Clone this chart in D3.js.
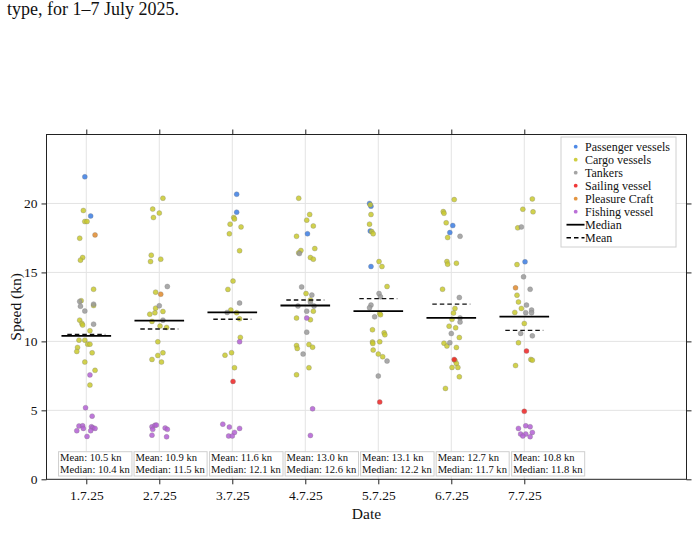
<!DOCTYPE html>
<html lang="en">
<head>
  <meta charset="UTF-8" />
  <title>Vessel speeds 1-7 July 2025</title>
  <style>
    html, body {
      margin: 0;
      background: #fff;
    }
    svg {
      display: block;
      font-family: "Liberation Serif", serif;
    }
    .grid line {
      stroke: #e3e3e3;
      stroke-width: 1;
    }
  </style>
  <script src="https://d3js.org/d3.v7.min.js"></script>
</head>
<body>
  <svg id="chart" width="700" height="541"></svg>
  <script>
    const days = ["1.7.25", "2.7.25", "3.7.25", "4.7.25", "5.7.25", "6.7.25", "7.7.25"];
    const meanSpeed = [10.5, 10.9, 11.6, 13.0, 13.1, 12.7, 10.8];
    const medianSpeed = [10.4, 11.5, 12.1, 12.6, 12.2, 11.7, 11.8];
    const yTicks = [0, 5, 10, 15, 20];

    // points per type: [day index, jitter, speed (kn)]
    const passenger = [
      [0, -0.02, 21.93], [0, 0.06, 19.09],
      [2, 0.06, 20.67], [2, 0.06, 19.37],
      [3, 0.03, 17.8],
      [4, -0.12, 20.0], [4, -0.1, 19.8], [4, -0.11, 18.0], [4, -0.1, 15.43],
      [5, 0.02, 18.4], [5, -0.02, 17.89],
      [6, 0.01, 15.77]
    ];
    const cargo = [
      [0, -0.04, 19.49], [0, -0.02, 18.69], [0, 0.01, 18.69], [0, -0.09, 17.48], [0, -0.05, 16.08],
      [0, -0.08, 15.89], [0, 0.10, 13.78], [0, -0.07, 12.95], [0, 0.10, 12.6], [0, -0.09, 11.54],
      [0, -0.06, 11.3], [0, -0.05, 11.18], [0, 0.05, 10.77], [0, -0.1, 10.09], [0, -0.02, 10.09],
      [0, 0.02, 9.8], [0, 0.05, 9.8], [0, -0.12, 9.56], [0, -0.13, 9.27], [0, 0.08, 9.17],
      [0, -0.02, 8.5], [0, 0.12, 7.9], [0, 0.05, 6.83],
      [1, 0.05, 20.38], [1, -0.09, 19.59], [1, 0, 19.3], [1, -0.08, 18.98], [1, -0.11, 16.25],
      [1, 0.02, 15.96], [1, -0.12, 15.79], [1, -0.05, 13.57], [1, -0.05, 12.41], [1, 0.05, 12.17],
      [1, -0.13, 11.97], [1, -0.06, 12.07], [1, -0.1, 11.45], [1, 0.01, 11.11], [1, 0.1, 11.01],
      [1, -0.02, 9.97], [1, 0.05, 9.17], [1, -0.02, 8.98], [1, -0.1, 8.69], [1, 0.03, 8.5],
      [2, 0.02, 18.98], [2, 0.03, 18.88], [2, -0.03, 18.5], [2, 0.12, 18.3], [2, -0.04, 17.8],
      [2, 0.1, 16.57], [2, 0.01, 14.37], [2, -0.06, 13.77], [2, -0.02, 12.27], [2, 0.06, 12.08],
      [2, 0.1, 11.64], [2, 0.11, 10.29], [2, -0.01, 9.18], [2, -0.1, 9.0], [2, 0.03, 8.09],
      [3, -0.09, 20.38], [3, 0.06, 19.2], [3, 0.02, 18.79], [3, 0.11, 18.37], [3, -0.12, 17.62],
      [3, 0.13, 16.73], [3, -0.06, 16.59], [3, -0.09, 16.42], [3, 0.07, 16.08], [3, 0.11, 15.96],
      [3, 0.01, 13.47], [3, 0.07, 13.0], [3, 0.11, 12.19], [3, -0.12, 11.69], [3, 0.07, 11.57],
      [3, -0.12, 9.7], [3, -0.11, 9.49], [3, 0.05, 9.77], [3, 0.1, 9.58], [3, 0.05, 8.09],
      [3, -0.12, 7.58],
      [4, -0.11, 19.9], [4, -0.1, 19.2], [4, -0.12, 18.5], [4, -0.09, 17.96], [4, -0.07, 17.8],
      [4, 0.01, 15.79], [4, 0.05, 15.43], [4, 0.12, 13.98], [4, 0.02, 12.03], [4, 0.03, 11.93],
      [4, -0.08, 10.84], [4, 0.08, 10.62], [4, 0.09, 10.48], [4, -0.08, 9.95], [4, -0.075, 9.85],
      [4, 0.02, 9.97], [4, -0.07, 9.37], [4, 0, 9.08], [4, 0.06, 8.89],
      [5, 0.04, 20.28], [5, -0.11, 19.41], [5, -0.1, 19.29], [5, -0.07, 18.6], [5, -0.05, 17.53],
      [5, -0.06, 15.79], [5, -0.05, 15.6], [5, 0.07, 15.67], [5, -0.12, 13.78], [5, 0.05, 12.39],
      [5, 0.03, 12.05], [5, 0.01, 11.6], [5, -0.03, 11.1], [5, 0.06, 10.98], [5, 0.11, 10.28],
      [5, -0.1, 9.87], [5, -0.06, 9.66], [5, 0.07, 9.56], [5, 0.05, 8.61], [5, 0.07, 8.4],
      [5, 0.01, 8.11], [5, 0.09, 8.11], [5, 0.11, 7.43], [5, -0.08, 6.59],
      [6, 0.11, 20.33], [6, -0.02, 19.58], [6, 0.12, 19.39], [6, -0.09, 18.23], [6, -0.1, 15.57],
      [6, -0.1, 13.35], [6, -0.08, 12.86], [6, -0.04, 12.39], [6, -0.13, 12.1], [6, 0, 11.3],
      [6, -0.08, 9.9], [6, 0.09, 8.69], [6, 0.11, 8.64], [6, -0.12, 8.25]
    ];
    const tankers = [
      [0, -0.09, 12.9], [0, -0.08, 12.55], [0, -0.02, 12.2], [0, 0.10, 12.7], [0, 0.10, 11.25],
      [1, 0.11, 13.98], [1, 0, 12.58], [1, 0.05, 11.54],
      [2, 0.1, 12.78], [2, -0.07, 12.1],
      [3, -0.08, 16.37], [3, -0.05, 13.95], [3, 0.09, 13.36], [3, 0.07, 12.85], [3, -0.1, 12.56],
      [3, 0.12, 12.56], [3, 0.02, 12.19], [3, 0.02, 10.67], [3, -0.03, 9.08],
      [4, 0.01, 13.47], [4, 0.03, 13.23], [4, -0.1, 12.63], [4, -0.12, 12.44], [4, -0.05, 11.78],
      [4, 0.12, 8.57], [4, 0, 7.49],
      [5, 0.12, 17.62], [5, 0.11, 13.18], [5, 0.12, 11.7], [5, 0.12, 11.4], [5, 0, 10.57], [5, -0.02, 9.9],
      [6, -0.04, 18.3], [6, -0.01, 14.68], [6, 0.08, 13.78], [6, 0.03, 12.63], [6, 0.1, 12.27],
      [6, 0.02, 12.08], [6, 0.1, 12.08], [6, -0.05, 10.58], [6, 0.11, 10.4]
    ];
    const sailing = [
      [2, 0.01, 7.1], [4, 0.02, 5.6], [5, 0.04, 8.69], [6, 0.03, 9.3], [6, 0, 4.93]
    ];
    const pleasure = [
      [0, 0.12, 17.72], [1, 0.02, 13.42], [6, -0.12, 13.88]
    ];
    const fishing = [
      [0, 0.05, 7.57], [0, -0.01, 5.19], [0, 0.08, 4.58], [0, -0.1, 3.86], [0, -0.05, 3.88],
      [0, -0.04, 3.69], [0, -0.13, 3.52], [0, 0.07, 3.81], [0, 0.09, 3.74], [0, 0.12, 3.69],
      [0, 0.06, 3.52], [0, 0.01, 3.11],
      [1, -0.1, 3.81], [1, -0.06, 3.91], [1, -0.04, 3.93], [1, -0.09, 3.62], [1, 0.08, 3.72],
      [1, 0.11, 3.62], [1, -0.1, 3.2], [1, 0.1, 3.08],
      [2, 0.1, 9.97], [2, -0.13, 4.0], [2, -0.04, 3.79], [2, 0.1, 3.69], [2, 0.03, 3.4],
      [2, -0.05, 3.14], [2, 0.0, 3.14],
      [3, 0.02, 11.69], [3, 0.1, 5.11], [3, 0.07, 3.18],
      [6, -0.08, 3.69], [6, 0.02, 3.88], [6, 0.08, 3.81], [6, 0.11, 3.4], [6, -0.05, 3.28],
      [6, 0.02, 3.28], [6, -0.02, 3.14], [6, 0.08, 3.09]
    ];

    const groups = [
      { name: "Passenger vessels", color: "#3b7ce3", data: passenger },
      { name: "Cargo vessels", color: "#c9c92e", data: cargo },
      { name: "Tankers", color: "#9a9a9a", data: tankers },
      { name: "Sailing vessel", color: "#ee2222", data: sailing },
      { name: "Pleasure Craft", color: "#e0892c", data: pleasure },
      { name: "Fishing vessel", color: "#b35fd3", data: fishing }
    ];

    const serif = "'Liberation Serif', 'Times New Roman', serif";
    const svg = d3.select("#chart");
    const mLeft = 46.5, mRight = 686.5, mTop = 134.5, mBottom = 479.3;
    const plotW = mRight - mLeft;

    const x = d3.scaleLinear().domain([-0.545, 8.222]).range([mLeft, mRight]);
    const y = d3.scaleLinear().domain([0, 25]).range([mBottom, mTop]);

    // gridlines
    const grid = svg.append("g").attr("class", "grid");
    grid.selectAll(".gv").data(days).join("line")
      .attr("x1", (d, i) => x(i)).attr("x2", (d, i) => x(i))
      .attr("y1", mTop).attr("y2", mBottom);
    grid.selectAll(".gh").data(yTicks.slice(1)).join("line")
      .attr("x1", mLeft).attr("x2", mRight)
      .attr("y1", d => y(d)).attr("y2", d => y(d));

    // axes (ticks mirrored on top and right)
    const xAxis = d3.axisBottom(x).tickValues(d3.range(days.length))
      .tickFormat(i => days[i]).tickSize(5).tickPadding(6);
    const gx = svg.append("g").attr("transform", `translate(0,${mBottom})`).call(xAxis);
    const yAxis = d3.axisLeft(y).tickValues(yTicks).tickSize(5).tickPadding(4);
    const gy = svg.append("g").attr("transform", `translate(${mLeft},0)`).call(yAxis);
    const gt = svg.append("g").attr("transform", `translate(0,${mTop})`)
      .call(d3.axisTop(x).tickValues(d3.range(days.length)).tickSize(5).tickFormat(""));
    const gr = svg.append("g").attr("transform", `translate(${mRight},0)`)
      .call(d3.axisRight(y).tickValues(yTicks).tickSize(5).tickFormat(""));
    [gx, gy, gt, gr].forEach(g => {
      g.attr("font-family", serif).attr("font-size", 13.5);
      g.select(".domain").remove();
      g.selectAll(".tick line").attr("stroke", "#222");
      g.selectAll(".tick text").attr("fill", "#111");
    });

    // frame
    svg.append("rect")
      .attr("x", mLeft).attr("y", mTop)
      .attr("width", plotW).attr("height", mBottom - mTop)
      .attr("fill", "none").attr("stroke", "#222").attr("stroke-width", 1);

    // points
    groups.forEach(g => {
      svg.append("g").selectAll("circle").data(g.data).join("circle")
        .attr("cx", d => x(d[0] + d[1]))
        .attr("cy", d => y(d[2]))
        .attr("r", 2.5)
        .attr("fill", g.color)
        .attr("fill-opacity", 0.85)
        .attr("stroke", "#7a7a7a")
        .attr("stroke-opacity", 0.6)
        .attr("stroke-width", 0.5);
    });

    // median and mean lines
    svg.append("g").selectAll("line").data(medianSpeed).join("line")
      .attr("x1", (d, i) => x(i - 0.34)).attr("x2", (d, i) => x(i + 0.34))
      .attr("y1", d => y(d)).attr("y2", d => y(d))
      .attr("stroke", "#000").attr("stroke-width", 1.8);
    svg.append("g").selectAll("line").data(meanSpeed).join("line")
      .attr("x1", (d, i) => x(i - 0.26)).attr("x2", (d, i) => x(i + 0.26))
      .attr("y1", d => y(d)).attr("y2", d => y(d))
      .attr("stroke", "#111").attr("stroke-width", 1.4)
      .attr("stroke-dasharray", "4.5,3");

    // stat boxes
    days.forEach((day, i) => {
      const bx = mLeft + plotW * (0.0188 + i * 0.118);
      const g = svg.append("g");
      const rect = g.append("rect");
      const t = g.append("text")
        .attr("font-family", serif)
        .attr("font-size", 10.6).attr("fill", "#111");
      t.append("tspan").attr("x", bx + 1.5).attr("y", 460.8)
        .text(`Mean: ${meanSpeed[i].toFixed(1)} kn`);
      t.append("tspan").attr("x", bx + 1.5).attr("y", 473.2)
        .text(`Median: ${medianSpeed[i].toFixed(1)} kn`);
      const bb = t.node().getBBox();
      rect.attr("x", bx).attr("y", 451.7)
        .attr("width", bb.width + 3).attr("height", 24.3)
        .attr("fill", "#fff").attr("fill-opacity", 0.85)
        .attr("stroke", "#cfcfcf").attr("stroke-width", 1);
    });

    // axis labels
    svg.append("text")
      .attr("x", (mLeft + mRight) / 2).attr("y", 518.5)
      .attr("text-anchor", "middle").attr("font-family", serif)
      .attr("font-size", 15.5).attr("fill", "#111")
      .text("Date");
    svg.append("text")
      .attr("transform", `translate(21,${(mTop + mBottom) / 2}) rotate(-90)`)
      .attr("text-anchor", "middle").attr("font-family", serif)
      .attr("font-size", 15.5).attr("fill", "#111")
      .text("Speed (kn)");

    // caption fragment above the chart
    svg.append("text")
      .attr("x", 7).attr("y", 15)
      .attr("font-family", serif)
      .attr("font-size", 18).attr("fill", "#111")
      .text("type, for 1–7 July 2025.");

    // legend
    const lg = svg.append("g").attr("font-family", serif);
    lg.append("rect")
      .attr("x", 561).attr("y", 137).attr("width", 115).attr("height", 110)
      .attr("fill", "#fff").attr("stroke", "#d0d0d0").attr("stroke-width", 1);
    const rowH = 13;
    const row0 = 146.7;
    groups.forEach((g, i) => {
      lg.append("circle")
        .attr("cx", 575.7).attr("cy", row0 + i * rowH).attr("r", 1.9)
        .attr("fill", g.color).attr("fill-opacity", 0.9);
      lg.append("text")
        .attr("x", 585).attr("y", row0 + i * rowH + 4)
        .attr("font-size", 12).attr("fill", "#111").text(g.name);
    });
    const lines = [
      { name: "Median", dash: null, w: 1.8 },
      { name: "Mean", dash: "4.5,3", w: 1.4 }
    ];
    lines.forEach((l, j) => {
      const yy = row0 + (groups.length + j) * rowH;
      lg.append("line")
        .attr("x1", 566.5).attr("x2", 584.5).attr("y1", yy).attr("y2", yy)
        .attr("stroke", "#000").attr("stroke-width", l.w)
        .attr("stroke-dasharray", l.dash);
      lg.append("text")
        .attr("x", 585).attr("y", yy + 4)
        .attr("font-size", 12).attr("fill", "#111").text(l.name);
    });
  </script>
</body>
</html>
